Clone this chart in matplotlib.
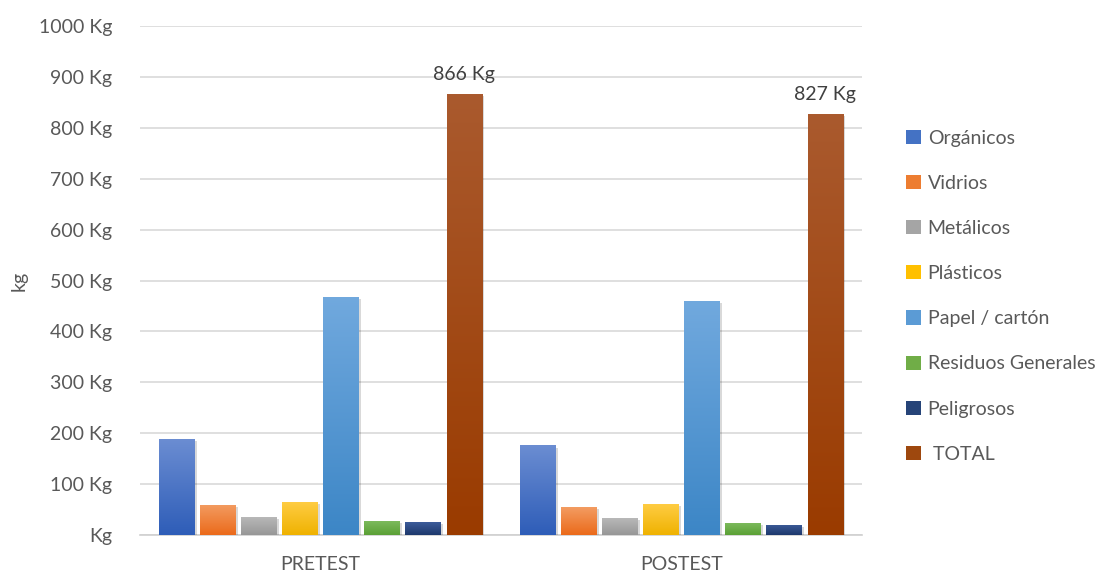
import numpy as np
import matplotlib
matplotlib.use("Agg")
import matplotlib.pyplot as plt
import matplotlib.patheffects as pe
from matplotlib.colors import LinearSegmentedColormap

groups = ["PRETEST", "POSTEST"]
series = ["Orgánicos", "Vidrios", "Metálicos", "Plásticos", "Papel / cartón",
          "Residuos Generales", "Peligrosos", " TOTAL"]
organicos = [188, 176]
vidrios = [59, 55]
metalicos = [35, 33]
plasticos = [65, 61]
papel = [468, 459]
residuos = [27, 23]
peligrosos = [25, 20]
total = [866, 827]
values = [organicos, vidrios, metalicos, plasticos, papel, residuos, peligrosos, total]
yticks = [0, 100, 200, 300, 400, 500, 600, 700, 800, 900, 1000]
ytick_labels = ["Kg"] + [f"{v} Kg" for v in yticks[1:]]

# (top, bottom) gradient colors
grads = [("#6b8dd2", "#2e5db8"), ("#f39c62", "#eb6a1a"), ("#b8b8b8", "#979797"),
         ("#ffcd45", "#efb200"), ("#71a9de", "#3c86c6"), ("#7cba5c", "#5aa035"),
         ("#3d5c9a", "#1d386c"), ("#aa5a2e", "#9a3b00")]
mids = ["#4472c4", "#ed7d31", "#a5a5a5", "#ffc000", "#5b9bd5", "#70ad47", "#264478", "#9e480e"]

plt.rcParams['font.family'] = ['Lato', 'DejaVu Sans']
txt = "#595959"
fs = 14

fig = plt.figure(figsize=(11.18, 5.74), dpi=100)
ax = fig.add_axes([0.1252, 0.0679, 0.771 - 0.1252, 0.9547 - 0.0679])

x = np.arange(len(groups))
slot = 0.1136
bw = 0.097
n = len(series)
for i, (name, vals) in enumerate(zip(series, values)):
    pos = x + (i - (n - 1) / 2) * slot
    bars = ax.bar(pos, vals, width=bw, color=mids[i], label=name, zorder=3,
                  path_effects=[pe.SimplePatchShadow(offset=(1.5, -1.5), shadow_rgbFace="#000000", alpha=0.15),
                                pe.Normal()])
    cmap = LinearSegmentedColormap.from_list(f"g{i}", [grads[i][1], grads[i][0]])
    for b in bars:
        x0, y0 = b.get_x(), b.get_y()
        w, h = b.get_width(), b.get_height()
        grad = np.linspace(0, 1, 256).reshape(-1, 1)
        im = ax.imshow(grad, extent=[x0, x0 + w, y0, y0 + h], origin="lower",
                       cmap=cmap, aspect="auto", zorder=4)
        im.set_clip_path(b)
    if i == n - 1:
        for b, v in zip(bars, vals):
            ax.annotate(f"{v} Kg", (b.get_x() + b.get_width() / 2, v), xytext=(0, 8),
                        textcoords="offset points", ha="center", va="bottom",
                        fontsize=fs, color="#404040")

ax.set_xlim(-0.5, 1.5)
ax.set_ylim(0, 1000)
ax.set_yticks(yticks)
ax.set_yticklabels(ytick_labels, fontsize=fs, color=txt)
ax.set_xticks(x)
ax.set_xticklabels(groups, fontsize=fs, color=txt)
ax.tick_params(axis="both", length=0)
ax.tick_params(axis="y", pad=20)
ax.tick_params(axis="x", pad=15)
ax.grid(axis="y", color="#d9d9d9", linewidth=1.2, zorder=0)
ax.set_axisbelow(True)
for s in ["left", "right", "top"]:
    ax.spines[s].set_visible(False)
ax.spines["bottom"].set_color("#d0d0d0")
ax.spines["bottom"].set_linewidth(1.2)
ax.set_ylabel("kg", fontsize=fs, color=txt, labelpad=8)

leg = ax.legend(loc="center left", bbox_to_anchor=(0.795, 0.484), bbox_transform=fig.transFigure,
                frameon=False, fontsize=fs, handlelength=0.75, handleheight=0.75,
                handletextpad=0.35, labelspacing=1.45, labelcolor=txt)
for h in leg.legend_handles:
    h.set_path_effects([])

fig.savefig("out.png", dpi=100)
